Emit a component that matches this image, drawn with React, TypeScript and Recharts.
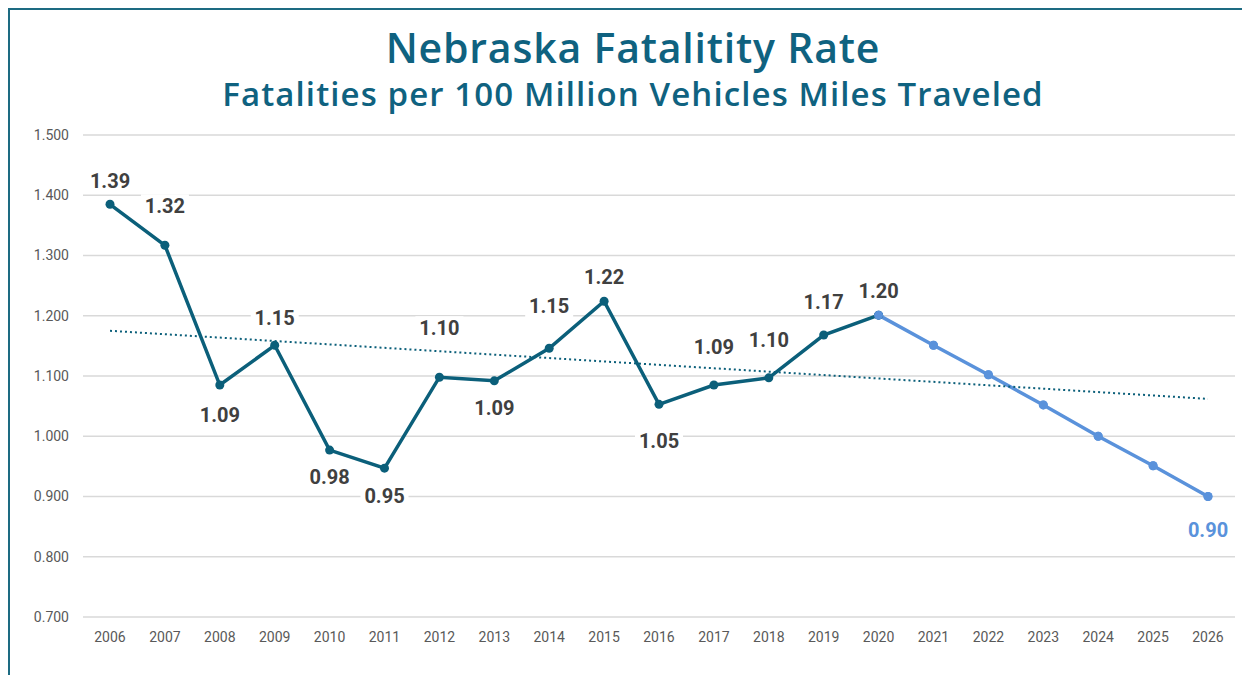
import React from 'react'
import { LineChart, Line, XAxis, YAxis, CartesianGrid, LabelList } from 'recharts'

const years = [
  '2006', '2007', '2008', '2009', '2010', '2011', '2012', '2013', '2014', '2015', '2016',
  '2017', '2018', '2019', '2020', '2021', '2022', '2023', '2024', '2025', '2026',
]

// observed rate, 2006-2020
const actual = [
  1.385, 1.317, 1.085, 1.151, 0.977, 0.947, 1.098, 1.092, 1.146, 1.224, 1.053,
  1.085, 1.097, 1.168, 1.201, null, null, null, null, null, null,
]

// goal path, 2020-2026
const projected = [
  null, null, null, null, null, null, null, null, null, null, null,
  null, null, null, 1.201, 1.151, 1.102, 1.052, 1.0, 0.951, 0.9,
]

// linear trend (endpoints)
const trend = [
  1.175, null, null, null, null, null, null, null, null, null, null,
  null, null, null, null, null, null, null, null, null, 1.062,
]

const actualLabels = [
  '1.39', '1.32', '1.09', '1.15', '0.98', '0.95', '1.10', '1.09', '1.15', '1.22', '1.05',
  '1.09', '1.10', '1.17', '1.20', '', '', '', '', '', '',
]
const projectedLabels = ['', '', '', '', '', '', '', '', '', '', '', '', '', '', '', '', '', '', '', '', '0.90']

const yTicks = [0.7, 0.8, 0.9, 1.0, 1.1, 1.2, 1.3, 1.4, 1.5]

// vertical offset of each value label from its point (px, negative = above)
const labelDy: Record<string, number> = {
  '2006': -23, '2007': -39, '2008': 30, '2009': -27, '2010': 27, '2011': 28,
  '2012': -49, '2013': 27, '2014': -42, '2015': -24, '2016': 37, '2017': -38,
  '2018': -38, '2019': -33, '2020': -24, '2026': 33,
}

const colors = {
  title: '#0f6280',
  actual: '#0b5f7a',
  projected: '#5a92db',
  label: '#404040',
  tick: '#595959',
  grid: '#d9d9d9',
  border: '#1d6b82',
}

const data = years.map((year, i) => ({
  year,
  actual: actual[i],
  projected: projected[i],
  trend: trend[i],
}))

function makeLabel(texts: string[], color: string) {
  return (props: any) => {
    const { x, y, index } = props
    const text = texts[index]
    if (!text || x == null || y == null) return null
    const dy = labelDy[years[index]] ?? -25
    const cy = y + dy
    return (
      <g>
        <rect x={x - 24} y={cy - 12} width={48} height={24} fill="#ffffff" />
        <text
          x={x}
          y={cy}
          textAnchor="middle"
          dominantBaseline="central"
          fill={color}
          fontSize={20}
          fontWeight={700}
          fontFamily="Roboto, sans-serif"
        >
          {text}
        </text>
      </g>
    )
  }
}

const titleBase: React.CSSProperties = {
  position: 'absolute',
  left: 0,
  width: 1246,
  textAlign: 'center',
  fontFamily: '"Open Sans", sans-serif',
  fontWeight: 600,
  color: colors.title,
  whiteSpace: 'nowrap',
}

export default function App() {
  return (
    <div
      style={{
        position: 'relative',
        width: 1250,
        height: 675,
        borderLeft: `2px solid ${colors.border}`,
        borderTop: `2px solid ${colors.border}`,
        background: '#ffffff',
        boxSizing: 'border-box',
        overflow: 'hidden',
      }}
    >
      <div style={{ ...titleBase, top: 14, fontSize: 41, lineHeight: '46px', letterSpacing: 0.8 }}>
        Nebraska Fatalitity Rate
      </div>
      <div style={{ ...titleBase, top: 65, fontSize: 33, lineHeight: '38px', letterSpacing: 1.1 }}>
        Fatalities per 100 Million Vehicles Miles Traveled
      </div>
      <div style={{ position: 'absolute', left: 0, top: 0 }}>
        <LineChart
          width={1242}
          height={667}
          data={data}
          margin={{ top: 125, right: 17, bottom: 30, left: 13 }}
        >
          <CartesianGrid stroke={colors.grid} strokeWidth={1.5} vertical={false} />
          <XAxis
            dataKey="year"
            axisLine={false}
            tickLine={false}
            tickMargin={9}
            padding={{ left: 27, right: 27 }}
            interval={0}
            tick={{ fill: colors.tick, fontSize: 14, fontFamily: 'Roboto, sans-serif' }}
          />
          <YAxis
            width={60}
            domain={[0.7, 1.5]}
            ticks={yTicks}
            tickFormatter={(v: number) => v.toFixed(3)}
            axisLine={false}
            tickLine={false}
            tickMargin={8}
            tick={{ fill: colors.tick, fontSize: 14, fontFamily: 'Roboto, sans-serif' }}
          />
          <Line
            dataKey="projected"
            stroke={colors.projected}
            strokeWidth={3.5}
            dot={{ r: 4.5, fill: colors.projected, stroke: colors.projected, strokeWidth: 0 }}
            isAnimationActive={false}
          >
            <LabelList dataKey="projected" content={makeLabel(projectedLabels, colors.projected)} />
          </Line>
          <Line
            dataKey="actual"
            stroke={colors.actual}
            strokeWidth={3.5}
            dot={{ r: 4.5, fill: colors.actual, stroke: colors.actual, strokeWidth: 0 }}
            isAnimationActive={false}
          >
            <LabelList dataKey="actual" content={makeLabel(actualLabels, colors.label)} />
          </Line>
          <Line
            dataKey="trend"
            stroke={colors.actual}
            strokeWidth={2}
            strokeDasharray="2 3"
            dot={false}
            connectNulls
            isAnimationActive={false}
          />
          {/* redraw 2020 point in the goal colour on top */}
          <Line
            dataKey="projected"
            stroke="none"
            dot={{ r: 4.5, fill: colors.projected, stroke: colors.projected, strokeWidth: 0 }}
            isAnimationActive={false}
            legendType="none"
          />
        </LineChart>
      </div>
    </div>
  )
}
